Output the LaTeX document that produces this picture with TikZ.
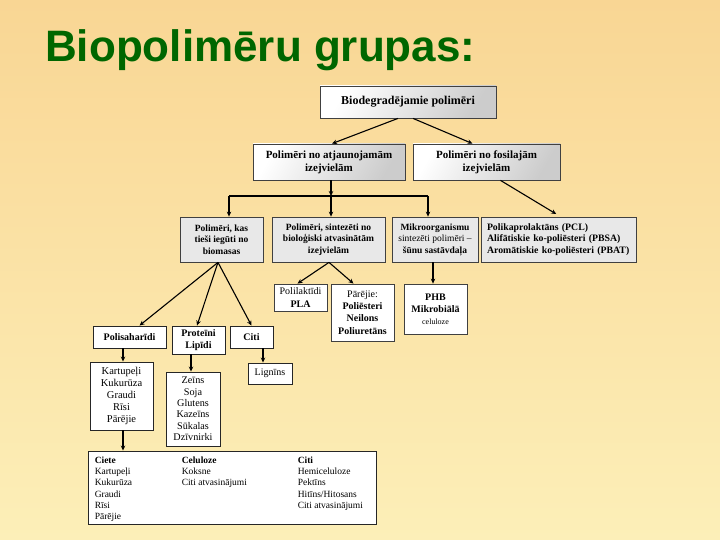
\documentclass[tikz,border=0pt]{standalone}
\usepackage{fontspec}
\setmainfont{Liberation Serif}
\newfontfamily\titlefont{Liberation Sans}
\usetikzlibrary{arrows.meta,shadows}
\definecolor{bgtop}{RGB}{249,214,148}
\definecolor{bgbot}{RGB}{252,239,184}
\definecolor{titlegreen}{RGB}{0,102,0}
\definecolor{rowgray}{RGB}{232,232,232}
\begin{document}
\begin{tikzpicture}[x=1pt,y=-1pt,
  boxbase/.style={draw=black!75, line width=0.8pt, inner sep=1pt, align=center},
  gradbox/.style={boxbase, shading=axis, left color=white, right color=black!20, shading angle=60,
     drop shadow={shadow xshift=1.2pt, shadow yshift=-1.2pt, opacity=0.35},
     font=\fontsize{11}{13}\selectfont\bfseries},
  graybox/.style={boxbase, fill=rowgray, font=\fontsize{9.5}{11.5}\selectfont\bfseries},
  whitebox/.style={boxbase, draw=black!85, line width=0.9pt, fill=white, font=\fontsize{10}{12.2}\selectfont},
  bigbox/.style={boxbase, draw=black!85, line width=0.9pt, fill=white},
  arr/.style={line width=1.1pt, -{Stealth[length=5pt,width=4.5pt]}},
  plain/.style={line width=1.1pt}
]
\useasboundingbox (0,0) rectangle (720,540);
\shade[top color=bgtop, bottom color=bgbot] (0,0) rectangle (720,540);

\node[anchor=base west, inner sep=0, text=titlegreen,
  font=\titlefont\bfseries\fontsize{44}{50}\selectfont] (title) at (45,62) {Biopolimēru grupas:};

% level 1-2
\node[gradbox, font=\fontsize{12}{14}\selectfont\bfseries, minimum width=176, minimum height=32] (b1) at (408,102) {Biodegradējamie polimēri};
\node[gradbox, minimum width=152, minimum height=36] (b2) at (329,162) {Polimēri no atjaunojamām\\izejvielām};
\node[gradbox, minimum width=147, minimum height=36] (b3) at (486.5,162) {Polimēri no fosilajām\\izejvielām};

% level 3
\node[graybox, minimum width=83, minimum height=45] (ra) at (221.5,239.5) {Polimēri, kas\\tieši iegūti no\\biomasas};
\node[graybox, minimum width=113, minimum height=45] (rb) at (328.5,239.5) {Polimēri, sintezēti no\\bioloģiski atvasinātām\\izejvielām};
\node[graybox, minimum width=86, minimum height=45] (rc) at (435,239.5) {Mikroorganismu\\{\mdseries sintezēti polimēri –}\\šūnu sastāvdaļa};
\node[graybox, font=\fontsize{9.8}{11.5}\selectfont\bfseries, align=left, minimum width=155, minimum height=45, text width=143] (rd) at (558.5,239.5) {Polikaprolaktāns (PCL)\\Alifātiskie ko-poliēsteri (PBSA)\\Aromātiskie ko-poliēsteri (PBAT)};

% level 4
\node[whitebox, draw=black!75, line width=0.8pt, minimum width=53, minimum height=27] (pla) at (300.5,297.5) {Polilaktīdi\\\textbf{PLA}};
\node[whitebox, draw=black!75, line width=0.8pt, minimum width=63, minimum height=57] (par) at (362.5,312.5) {Pārējie:\\\textbf{Poliēsteri}\\\textbf{Neilons}\\\textbf{Poliuretāns}};
\node[whitebox, draw=black!75, line width=0.8pt, minimum width=63, minimum height=50] (phb) at (435.5,309) {\textbf{PHB}\\\textbf{Mikrobiālā}\\{\fontsize{8}{11}\selectfont celuloze}};

\node[whitebox, font=\fontsize{10}{12}\selectfont\bfseries, minimum width=73, minimum height=22] (ps) at (129.5,337) {Polisaharīdi};
\node[whitebox, font=\fontsize{10}{12}\selectfont\bfseries, minimum width=53, minimum height=28] (pl) at (198.5,340) {Proteīni\\Lipīdi};
\node[whitebox, font=\fontsize{10}{12}\selectfont\bfseries, minimum width=43, minimum height=22] (ci) at (251.5,337) {Citi};

\node[whitebox, font=\fontsize{10.5}{12}\selectfont, minimum width=63, minimum height=68] (l1) at (121.5,396) {Kartupeļi\\Kukurūza\\Graudi\\Rīsi\\Pārējie};
\node[whitebox, font=\fontsize{10.2}{11.4}\selectfont, minimum width=54, minimum height=74] (l2) at (193,409) {Zeīns\\Soja\\Glutens\\Kazeīns\\Sūkalas\\Dzīvnirki};
\node[whitebox, minimum width=44, minimum height=21] (lig) at (270,373.5) {Lignīns};

\node[bigbox, minimum width=288, minimum height=73] (big) at (232,487.5) {};
\node[anchor=north west, inner sep=0, align=left, font=\fontsize{9.5}{11.2}\selectfont] (bigtext) at ([shift={(7pt,-5pt)}]big.north west)
{\begin{tabular}{@{}p{87pt}@{}p{116pt}@{}p{75pt}@{}}
\textbf{Ciete} & \textbf{Celuloze} & \textbf{Citi}\\
Kartupeļi & Koksne & Hemiceluloze\\
Kukurūza & Citi atvasinājumi & Pektīns\\
Graudi & & Hitīns/Hitosans\\
Rīsi & & Citi atvasinājumi\\
Pārējie & &
\end{tabular}};

% connectors
\draw[arr] ([xshift=-10pt]b1.south) -- ([xshift=3pt]b2.north);
\draw[arr] ([xshift=5pt]b1.south) -- ([xshift=-14pt]b3.north);

\coordinate (j) at (331,196);
\draw[arr] ([xshift=2pt]b2.south) -- (j);
\draw[plain] ([xshift=7.5pt]ra.north |- j) -- ([xshift=-7pt]rc.north |- j);
\draw[arr] (j) -- (j |- rb.north);
\draw[arr] ([xshift=7.5pt]ra.north |- j) -- ([xshift=7.5pt]ra.north);
\draw[arr] ([xshift=-7pt]rc.north |- j) -- ([xshift=-7pt]rc.north);
\draw[arr, shorten >=5pt] ([xshift=14pt]b3.south) -- ([xshift=2pt]rd.north);

\draw[arr] ([xshift=-3.5pt]ra.south) -- ([xshift=10pt]ps.north);
\draw[arr] ([xshift=-3.5pt]ra.south) -- ([xshift=-1.5pt]pl.north);
\draw[arr] ([xshift=-3.5pt]ra.south) -- (ci.north);

\draw[arr] ([xshift=0.5pt]rb.south) -- ([xshift=-3pt]pla.north);
\draw[arr] ([xshift=0.5pt]rb.south) -- ([xshift=-9pt]par.north);
\draw[arr] ([xshift=-2pt]rc.south) -- ([xshift=-2pt]rc.south |- phb.north);

\draw[arr] ([xshift=-6.5pt]ps.south) -- ([xshift=-6.5pt]ps.south |- l1.north);
\draw[arr] ([xshift=-7.5pt]pl.south) -- ([xshift=-7.5pt]pl.south |- l2.north);
\draw[arr] ([xshift=11.5pt]ci.south) -- ([xshift=11.5pt]ci.south |- lig.north);
\draw[arr] ([xshift=1.5pt]l1.south) -- ([xshift=1.5pt]l1.south |- big.north);
\end{tikzpicture}
\end{document}
